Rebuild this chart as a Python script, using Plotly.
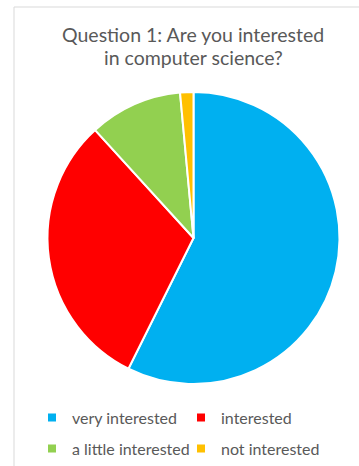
import plotly.graph_objects as go

labels = ["very interested", "interested", "a little interested", "not interested"]
values = [39, 21, 7, 1]
colors = ["#00B0F0", "#FF0000", "#92D050", "#FFC000"]
title_lines = ["Question 1: Are you interested", "in computer science?"]

W, H = 359, 466
FONT = "Lato, 'Open Sans', sans-serif"
GRAY = "#595959"

fig = go.Figure()
fig.add_trace(go.Pie(
    labels=labels, values=values, sort=False, direction="clockwise", rotation=0,
    marker=dict(colors=colors, line=dict(color="white", width=2)),
    textinfo="none", hoverinfo="label+value+percent", showlegend=False,
    domain=dict(x=[47.5 / W, 339.5 / W], y=[82 / H, 374 / H]),
))

# legend entries (two rows, two columns, like the original)
for i, (lab, col) in enumerate(zip(labels, colors)):
    fig.add_trace(go.Scatter(
        x=[None], y=[None], mode="markers", name=lab,
        marker=dict(symbol="square", size=8, color=col),
        legend="legend" if i < 2 else "legend2", hoverinfo="skip",
    ))

leg_common = dict(orientation="h", xanchor="left", yanchor="middle",
                  font=dict(size=16, color=GRAY, family=FONT),
                  entrywidth=104, entrywidthmode="pixels", traceorder="normal",
                  itemwidth=30, bgcolor="rgba(0,0,0,0)")

fig.update_layout(
    width=W, height=H, margin=dict(l=0, r=0, t=0, b=0),
    paper_bgcolor="white", plot_bgcolor="white",
    font=dict(family=FONT, color=GRAY),
    showlegend=True,
    xaxis=dict(visible=False), yaxis=dict(visible=False),
    legend=dict(x=32 / W, y=1 - 417.5 / H, **leg_common),
    legend2=dict(x=32 / W, y=1 - 448.5 / H, **leg_common),
    annotations=[
        dict(text=title_lines[0], x=193 / W, y=1 - 35 / H, xref="paper", yref="paper",
             xanchor="center", yanchor="middle", showarrow=False,
             font=dict(size=19.5, color=GRAY, family=FONT)),
        dict(text=title_lines[1], x=193 / W, y=1 - 57 / H, xref="paper", yref="paper",
             xanchor="center", yanchor="middle", showarrow=False,
             font=dict(size=19.5, color=GRAY, family=FONT)),
    ],
    shapes=[
        dict(type="line", xref="paper", yref="paper", x0=14 / W, x1=1, y0=1 - 7 / H, y1=1 - 7 / H,
             line=dict(color="#D9D9D9", width=1)),
        dict(type="line", xref="paper", yref="paper", x0=14 / W, x1=14 / W, y0=0, y1=1 - 7 / H,
             line=dict(color="#D9D9D9", width=1)),
    ],
)

fig.write_html("out.html")
